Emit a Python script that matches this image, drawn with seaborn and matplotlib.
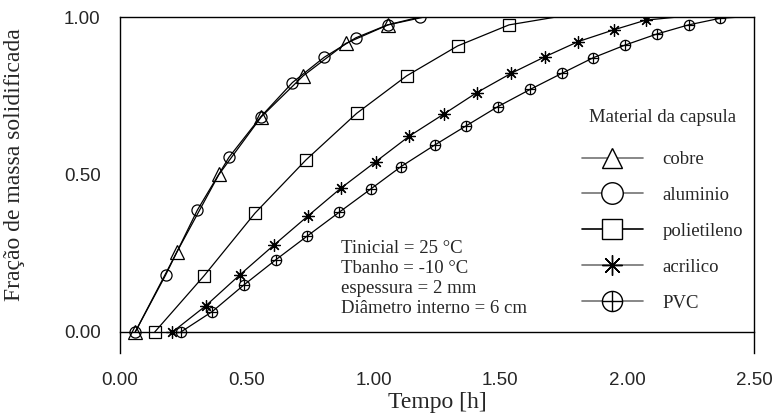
import matplotlib
matplotlib.use("Agg")
import matplotlib.pyplot as plt
from matplotlib.lines import Line2D
from matplotlib.path import Path
from matplotlib.ticker import MultipleLocator, FixedLocator
import seaborn as sns
import pandas as pd

# dados (tempo em horas, fracao solidificada)
tempo_cobre = [0.06, 0.225, 0.39, 0.557, 0.722, 0.89, 1.057, 1.20]
fracao_cobre = [0.0, 0.255, 0.50, 0.683, 0.813, 0.916, 0.975, 1.0]

tempo_aluminio = [0.06, 0.18, 0.305, 0.43, 0.555, 0.68, 0.805, 0.93, 1.055, 1.183]
fracao_aluminio = [0.0, 0.181, 0.387, 0.555, 0.683, 0.792, 0.872, 0.934, 0.975, 1.0]

tempo_polietileno = [0.137, 0.332, 0.532, 0.733, 0.933, 1.13, 1.331, 1.534, 1.72]
fracao_polietileno = [0.0, 0.179, 0.377, 0.546, 0.694, 0.813, 0.908, 0.975, 1.0]

tempo_acrilico = [0.207, 0.338, 0.472, 0.607, 0.742, 0.87, 1.009, 1.141, 1.277,
                  1.407, 1.542, 1.676, 1.807, 1.946, 2.073, 2.2]
fracao_acrilico = [0.0, 0.083, 0.181, 0.276, 0.369, 0.456, 0.541, 0.622, 0.692,
                   0.760, 0.821, 0.874, 0.922, 0.959, 0.990, 1.0]

tempo_pvc = [0.24, 0.364, 0.488, 0.614, 0.739, 0.864, 0.989, 1.108, 1.242, 1.364,
             1.489, 1.617, 1.742, 1.867, 1.992, 2.117, 2.242, 2.367, 2.45]
fracao_pvc = [0.0, 0.065, 0.149, 0.229, 0.305, 0.380, 0.454, 0.525, 0.594, 0.654,
              0.715, 0.770, 0.821, 0.871, 0.911, 0.946, 0.975, 0.996, 1.0]

# quantos pontos de cada serie levam marcador (o ultimo ponto so fecha a curva)
marcados_cobre = 7
marcados_aluminio = 10
marcados_polietileno = 8
marcados_acrilico = 15
marcados_pvc = 18

nomes = ["cobre", "aluminio", "polietileno", "acrilico", "PVC"]

circulo_cruz = Path.make_compound_path(
    Path.unit_circle(),
    Path([[-1, 0], [1, 0]], [Path.MOVETO, Path.LINETO]),
    Path([[0, -1], [0, 1]], [Path.MOVETO, Path.LINETO]),
)

series = [
    (tempo_cobre, fracao_cobre, marcados_cobre, "^", 9.4, 14.5),
    (tempo_aluminio, fracao_aluminio, marcados_aluminio, "o", 8.0, 15.5),
    (tempo_polietileno, fracao_polietileno, marcados_polietileno, "s", 8.4, 15.0),
    (tempo_acrilico, fracao_acrilico, marcados_acrilico, (8, 2, 0), 8.8, 14.5),
    (tempo_pvc, fracao_pvc, marcados_pvc, circulo_cruz, 7.4, 14.5),
]

sns.set_style("white")
plt.rcParams["font.family"] = ["Liberation Serif", "DejaVu Serif"]

fig = plt.figure(figsize=(7.76, 4.17), dpi=100)
W, H = 776, 417
ax = fig.add_axes([120 / W, (H - 353) / H, 634 / W, 336 / H])

for (t, f, n, mk, ms, _), nome in zip(series, nomes):
    df = pd.DataFrame({"Tempo": t, "Fracao": f})
    sns.lineplot(data=df, x="Tempo", y="Fracao", ax=ax, estimator=None, sort=False,
                 color="black", linewidth=0.9, marker=mk, markersize=ms,
                 markerfacecolor="none", markeredgecolor="black",
                 markeredgewidth=0.9, markevery=list(range(n)))

ax.set_xlim(0, 2.5)
ax.set_ylim(-0.0667, 1.0)

for lado in ["left", "right", "top", "bottom"]:
    ax.spines[lado].set_color("black")
    ax.spines[lado].set_linewidth(1.0)
ax.spines["bottom"].set_position(("data", 0))

ax.xaxis.set_major_locator(MultipleLocator(0.5))
ax.xaxis.set_minor_locator(MultipleLocator(0.25))
ax.yaxis.set_major_locator(FixedLocator([0.0, 0.5, 1.0]))
ax.yaxis.set_minor_locator(FixedLocator([0.25, 0.75]))
ax.set_xticklabels([f"{v:.2f}" for v in ax.get_xticks()])
ax.set_yticklabels(["0.00", "0.50", "1.00"])

ax.tick_params(axis="x", which="major", direction="out", length=15, width=1.0,
               pad=14, labelsize=13.5, color="black")
ax.tick_params(axis="x", which="minor", direction="out", length=8, width=1.0,
               color="black")
ax.tick_params(axis="y", which="both", direction="out", length=8, width=1.0,
               pad=6, labelsize=13.5, color="black")
for lbl in ax.get_xticklabels() + ax.get_yticklabels():
    lbl.set_family(["Liberation Sans", "DejaVu Sans"])

ax.set_xlabel("Tempo [h]", fontsize=17)
ax.set_ylabel("Fração de massa solidificada", fontsize=17)
ax.xaxis.set_label_coords(0.5, -0.115)
ax.yaxis.set_label_coords(-0.15, 0.56)

ax.text(0.349, 0.335, "Tinicial = 25 °C\nTbanho = -10 °C\nespessura = 2 mm\n"
        "Diâmetro interno = 6 cm", transform=ax.transAxes, fontsize=13.5,
        va="top", ha="left", linespacing=1.22)

handles = []
for (t, f, n, mk, ms, ms_leg), nome in zip(series, nomes):
    cor = "black" if nome == "polietileno" else "0.45"
    handles.append(Line2D([], [], color=cor, linewidth=1.2, marker=mk,
                          markersize=ms_leg, markerfacecolor="white",
                          markeredgecolor="black", markeredgewidth=1.0))

leg = ax.legend(handles, nomes, title="Material da capsula", frameon=False,
                loc="upper left", bbox_to_anchor=(582 / W, 1 - 109 / H),
                bbox_transform=fig.transFigure, borderpad=0, borderaxespad=0,
                fontsize=13.5, title_fontsize=13.5, handlelength=3.25,
                handletextpad=1.05, labelspacing=1.0)
leg._legend_box.sep = 18

fig.savefig("out.png", dpi=100)
